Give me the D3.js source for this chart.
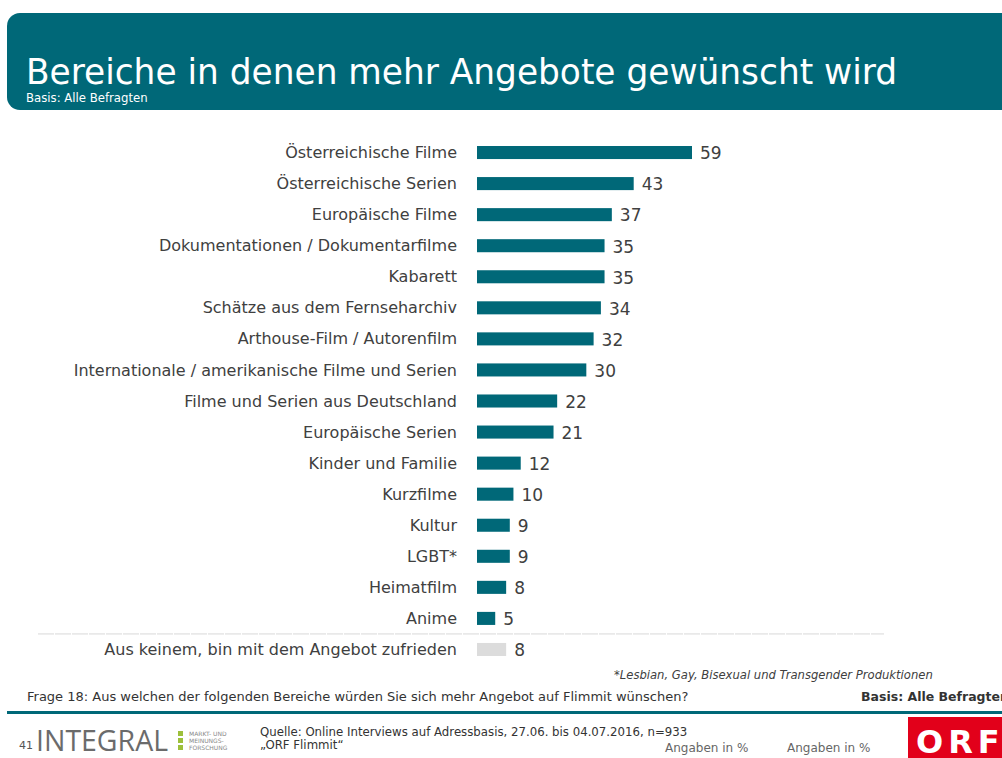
<!DOCTYPE html>
<html>
<head>
<meta charset="utf-8">
<script src="https://cdn.jsdelivr.net/npm/d3@7"></script>
<style>
  body { margin: 0; background: #fff; }
  text { font-family: "DejaVu Sans", Verdana, sans-serif; }
</style>
</head>
<body>
<svg id="chart" width="1002" height="758"></svg>
<script>
'use strict';

// categories and values (Angaben in %)
var categories = [
    'Österreichische Filme',
    'Österreichische Serien',
    'Europäische Filme',
    'Dokumentationen / Dokumentarfilme',
    'Kabarett',
    'Schätze aus dem Fernseharchiv',
    'Arthouse-Film / Autorenfilm',
    'Internationale / amerikanische Filme und Serien',
    'Filme und Serien aus Deutschland',
    'Europäische Serien',
    'Kinder und Familie',
    'Kurzfilme',
    'Kultur',
    'LGBT*',
    'Heimatfilm',
    'Anime',
    'Aus keinem, bin mit dem Angebot zufrieden'
];
var values = [59, 43, 37, 35, 35, 34, 32, 30, 22, 21, 12, 10, 9, 9, 8, 5, 8];
var noneCategory = 'Aus keinem, bin mit dem Angebot zufrieden';

var teal = '#006878',
    grey = '#dcdcdc',
    textCol = '#404040';

var svg = d3.select('#chart');

// header band
svg.append('rect')
    .attr('x', 7).attr('y', 13)
    .attr('width', 1010).attr('height', 97)
    .attr('rx', 13).attr('ry', 13)
    .attr('fill', teal);

svg.append('text')
    .attr('x', 26).attr('y', 84)
    .attr('fill', '#fff')
    .style('font-family', '"DejaVu Sans Condensed", "DejaVu Sans", sans-serif')
    .style('font-size', '35px')
    .attr('textLength', 871)
    .attr('lengthAdjust', 'spacingAndGlyphs')
    .text('Bereiche in denen mehr Angebote gewünscht wird');

svg.append('text')
    .attr('x', 26).attr('y', 102)
    .attr('fill', '#fff')
    .style('font-family', '"DejaVu Sans Condensed", "DejaVu Sans", sans-serif')
    .style('font-size', '13px')
    .text('Basis: Alle Befragten');

// scales
var x = d3.scaleLinear().domain([0, 59]).range([477, 692]);
var y = d3.scaleBand().domain(categories).range([137, 665]).paddingInner(0.58).paddingOuter(0.29);

var g = svg.append('g');

g.selectAll('.bar')
    .data(categories)
    .enter()
    .append('rect')
    .attr('class', 'bar')
    .attr('x', x(0))
    .attr('y', function (d) { return y(d); })
    .attr('width', function (d, i) { return x(values[i]) - x(0); })
    .attr('height', y.bandwidth())
    .attr('fill', function (d) { return d === noneCategory ? grey : teal; });

g.selectAll('.cat')
    .data(categories)
    .enter()
    .append('text')
    .attr('class', 'cat')
    .attr('x', 457)
    .attr('y', function (d) { return y(d) + y.bandwidth() / 2; })
    .attr('dy', '0.35em')
    .attr('text-anchor', 'end')
    .attr('fill', textCol)
    .style('font-size', '16px')
    .text(function (d) { return d; });

g.selectAll('.val')
    .data(categories)
    .enter()
    .append('text')
    .attr('class', 'val')
    .attr('x', function (d, i) { return x(values[i]) + 8; })
    .attr('y', function (d) { return y(d) + y.bandwidth() / 2; })
    .attr('dy', '0.4em')
    .attr('fill', textCol)
    .style('font-size', '17px')
    .text(function (d, i) { return values[i]; });

// dashed separator before "Aus keinem"
var sepY = y(noneCategory) - (y.step() - y.bandwidth()) / 2;
g.append('line')
    .attr('x1', 38).attr('x2', 884)
    .attr('y1', sepY).attr('y2', sepY)
    .attr('stroke', '#d8d8d8')
    .attr('stroke-dasharray', '16,1');

// footnote
svg.append('text')
    .attr('x', 614).attr('y', 679)
    .attr('fill', textCol)
    .style('font-size', '11.6px')
    .style('font-style', 'italic')
    .text('*Lesbian, Gay, Bisexual und Transgender Produktionen');

// footer
svg.append('text')
    .attr('x', 27).attr('y', 701)
    .attr('fill', '#333')
    .style('font-size', '13px')
    .text('Frage 18: Aus welchen der folgenden Bereiche würden Sie sich mehr Angebot auf Flimmit wünschen?');

svg.append('text')
    .attr('x', 861).attr('y', 701)
    .attr('fill', '#333')
    .style('font-size', '12.5px')
    .style('font-weight', 'bold')
    .text('Basis: Alle Befragten');

svg.append('rect')
    .attr('x', 7).attr('y', 711)
    .attr('width', 1000).attr('height', 3)
    .attr('fill', teal);

svg.append('text')
    .attr('x', 19).attr('y', 749)
    .attr('fill', '#555')
    .style('font-size', '11px')
    .text('41');

svg.append('text')
    .attr('x', 36).attr('y', 751)
    .attr('fill', '#6b6b6b')
    .style('font-family', '"Open Sans", "DejaVu Sans", sans-serif')
    .style('font-size', '30px')
    .attr('textLength', 132)
    .attr('lengthAdjust', 'spacingAndGlyphs')
    .text('INTEGRAL');

var sub = ['MARKT- UND', 'MEINUNGS-', 'FORSCHUNG'];
sub.forEach(function (s, i) {
    svg.append('rect')
        .attr('x', 178).attr('y', 731 + i * 7)
        .attr('width', 5).attr('height', 5)
        .attr('fill', '#9dc03b');
    svg.append('text')
        .attr('x', 189).attr('y', 736 + i * 7)
        .attr('fill', '#888')
        .style('font-size', '6px')
        .text(s);
});

svg.append('text')
    .attr('x', 260).attr('y', 736)
    .attr('fill', '#333')
    .style('font-size', '11.75px')
    .text('Quelle: Online Interviews auf Adressbasis, 27.06. bis 04.07.2016, n=933');

svg.append('text')
    .attr('x', 260).attr('y', 749)
    .attr('fill', '#333')
    .style('font-size', '11.75px')
    .text('„ORF Flimmit“');

[665, 787].forEach(function (px) {
    svg.append('text')
        .attr('x', px).attr('y', 752)
        .attr('fill', '#666')
        .style('font-size', '12px')
        .text('Angaben in %');
});

svg.append('rect')
    .attr('x', 908).attr('y', 717)
    .attr('width', 100).attr('height', 45)
    .attr('fill', '#e2001a');

svg.append('text')
    .attr('x', 916).attr('y', 753)
    .attr('fill', '#fff')
    .style('font-size', '32px')
    .style('font-weight', 'bold')
    .attr('letter-spacing', '5')
    .text('ORF');
</script>
</body>
</html>
